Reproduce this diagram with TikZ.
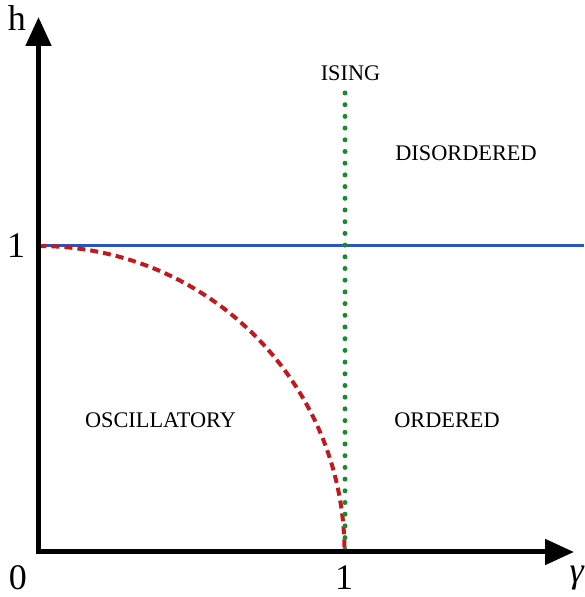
\documentclass[tikz,border=0pt]{standalone}
\usepackage{fontspec}
\setmainfont{Liberation Serif}
\usetikzlibrary{arrows.meta}
\definecolor{hblue}{RGB}{40,85,190}
\definecolor{hred}{RGB}{192,25,30}
\definecolor{hgreen}{RGB}{26,138,46}
\tikzset{
  axisline/.style={line width=5pt, line join=miter,
    {Triangle[length=29pt,width=25pt]}-{Triangle[length=29pt,width=25pt]}},
  bigtxt/.style={font=\fontsize{36}{40}\selectfont, inner sep=0pt, anchor=base},
  regiontxt/.style={font=\fontsize{22.3}{26}\selectfont, inner sep=0pt},
  bluel/.style={hblue, line width=3pt},
  redl/.style={hred, line width=4pt, dash pattern=on 8pt off 5pt},
  greenl/.style={hgreen, line width=5pt, line cap=round, dash pattern=on 0pt off 11.7pt}
}
\begin{document}
\begin{tikzpicture}[x=1pt,y=1pt]
\useasboundingbox (0,0) rectangle (584,597);
\coordinate (O) at (38.5,45);
\coordinate (ytip) at (38.5,580);
\coordinate (xtip) at (574,45);
\coordinate (hone) at (38.5,351);
\coordinate (hend) at (584,351);
\coordinate (gone) at (345,45);
\coordinate (gtop) at (345,504);
% lines
\draw[bluel] (hone) -- (hend);
\draw[redl] (hone) arc[start angle=90, end angle=0, radius=306];
\draw[greenl] (gtop) -- (gone);
% axes
\draw[axisline] (ytip) -- (O) -- (xtip);
% labels
\node[bigtxt] (hlab) at (17,566) {h};
\node[bigtxt] (onel) at (16,339) {1};
\node[bigtxt] (zero) at (18,7.5) {0};
\node[bigtxt] (oneb) at (344,7.5) {1};
\node[bigtxt] (glab) at (577,14) {\textit{γ}};
\node[regiontxt] (ising) at (350.5,524) {ISING};
\node[regiontxt] (disord) at (466,444) {DISORDERED};
\node[regiontxt] (osc) at (160.5,177) {OSCILLATORY};
\node[regiontxt] (ord) at (447,177) {ORDERED};
\end{tikzpicture}
\end{document}
